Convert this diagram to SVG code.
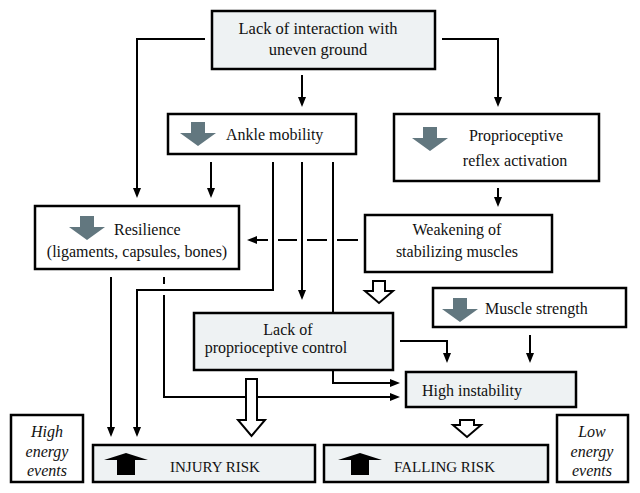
<svg xmlns="http://www.w3.org/2000/svg" width="640" height="493" viewBox="0 0 640 493" font-family="'Liberation Serif', 'DejaVu Serif', serif">
<style>
.box{fill:#ffffff;stroke:#000;stroke-width:2.5}
.gbox{fill:#eef2f3;stroke:#000;stroke-width:2.5}
text{font-family:'Liberation Serif','DejaVu Serif',serif;font-size:16px;fill:#111}
.c{text-anchor:middle}
.cap{font-size:15px}
.it{font-style:italic}
.ln{fill:none;stroke:#000;stroke-width:2}
.hol{fill:#fff;stroke:#000;stroke-width:2;stroke-linejoin:miter}
.gi{fill:#62777f}
.bi{fill:#000}
</style>
<defs>
<marker id="ah" viewBox="0 0 10 8" refX="1" refY="4" markerWidth="10" markerHeight="8" markerUnits="userSpaceOnUse" orient="auto">
<path d="M0,0 L10,4 L0,8 z" fill="#000"/>
</marker>
<path id="down" d="M-7,0 H7 V11 H18 L0,24 L-18,11 H-7 Z"/>
<path id="up" d="M0,0 L22,7 H9 V22 H-9 V7 H-22 Z"/>
</defs>
<rect width="640" height="493" fill="#fff"/>

<g id="connectors">
<path class="ln" d="M205,39 H137 V189" marker-end="url(#ah)"/>
<path class="ln" d="M442,39 H498 V98" marker-end="url(#ah)"/>
<path class="ln" d="M302,75 V98" marker-end="url(#ah)"/>
<path class="ln" d="M211,162 V189" marker-end="url(#ah)"/>
<path class="ln" d="M273,162 V290 H137 V428" marker-end="url(#ah)"/>
<path class="ln" d="M302,162 V291" marker-end="url(#ah)"/>
<path class="ln" d="M333,162 V383 H391" marker-end="url(#ah)"/>
<path class="ln" d="M498,188 V198" marker-end="url(#ah)"/>
<path class="ln" d="M358,240 H337 M327,240 H307 M297,240 H278"/>
<path class="ln" d="M268,240 H256" marker-end="url(#ah)"/>
<path class="ln" d="M111,277 V428" marker-end="url(#ah)"/>
<path class="ln" d="M164,277 V284"/>
<path class="ln" d="M164,295 V397 H391" marker-end="url(#ah)"/>
<path class="ln" d="M400,341 H447 V354" marker-end="url(#ah)"/>
<path class="ln" d="M530,335 V354" marker-end="url(#ah)"/>
<path class="hol" d="M373,281 H385 V291 H393 L379,303 L365,291 H373 Z"/>
<path class="hol" d="M246,379 H257 V420 H265 L251.5,436 L238,420 H246 Z"/>
<path class="hol" d="M460,420 H474 V425 H481 L467,437 L453,425 H460 Z"/>
</g>

<g id="n-top">
<rect class="gbox" x="212" y="11" width="223" height="58"/>
<text class="c" x="318" y="34" style="font-size:16.5px">Lack of interaction with</text>
<text class="c" x="318" y="55" style="font-size:16.5px">uneven ground</text>
</g>

<g id="n-ankle">
<rect class="box" x="168" y="114" width="188" height="40"/>
<use href="#down" class="gi" transform="translate(198,122)"/>
<text x="226" y="140">Ankle mobility</text>
</g>

<g id="n-proprio">
<rect class="box" x="394" y="114" width="205" height="67"/>
<use href="#down" class="gi" transform="translate(430,127)"/>
<text class="c" x="516" y="141">Proprioceptive</text>
<text class="c" x="515" y="166">reflex activation</text>
</g>

<g id="n-resilience">
<rect class="box" x="35" y="206" width="204" height="63"/>
<use href="#down" class="gi" transform="translate(87,216)"/>
<text x="114" y="235">Resilience</text>
<text class="c" x="137" y="257">(ligaments, capsules, bones)</text>
</g>

<g id="n-weakening">
<rect class="box" x="365" y="215" width="187" height="57"/>
<text class="c" x="457" y="235">Weakening of</text>
<text class="c" x="457" y="257">stabilizing muscles</text>
</g>

<g id="n-muscle">
<rect class="box" x="433" y="288" width="193" height="39"/>
<use href="#down" class="gi" transform="translate(460,298)"/>
<text x="485" y="314">Muscle strength</text>
</g>

<g id="n-lack">
<rect class="gbox" x="194" y="313" width="199" height="57"/>
<text class="c" x="288" y="335">Lack of</text>
<text class="c" x="276" y="353">proprioceptive control</text>
</g>

<g id="n-instability">
<rect class="gbox" x="406" y="372" width="170" height="35"/>
<text x="422" y="396">High instability</text>
</g>

<g id="n-injury">
<rect class="gbox" x="93" y="445" width="222" height="37"/>
<use href="#up" class="bi" transform="translate(126,453)"/>
<text class="cap" x="170" y="472">INJURY RISK</text>
</g>

<g id="n-falling">
<rect class="gbox" x="324" y="445" width="224" height="37"/>
<use href="#up" class="bi" transform="translate(360,453)"/>
<text class="cap" x="394" y="472">FALLING RISK</text>
</g>

<g id="n-high">
<rect class="box" x="11" y="415" width="72" height="67"/>
<text class="c it" x="47" y="437">High</text>
<text class="c it" x="47" y="457">energy</text>
<text class="c it" x="47" y="476">events</text>
</g>

<g id="n-low">
<rect class="box" x="557" y="415" width="71" height="67"/>
<text class="c it" x="592" y="437">Low</text>
<text class="c it" x="592" y="457">energy</text>
<text class="c it" x="592" y="476">events</text>
</g>
</svg>
